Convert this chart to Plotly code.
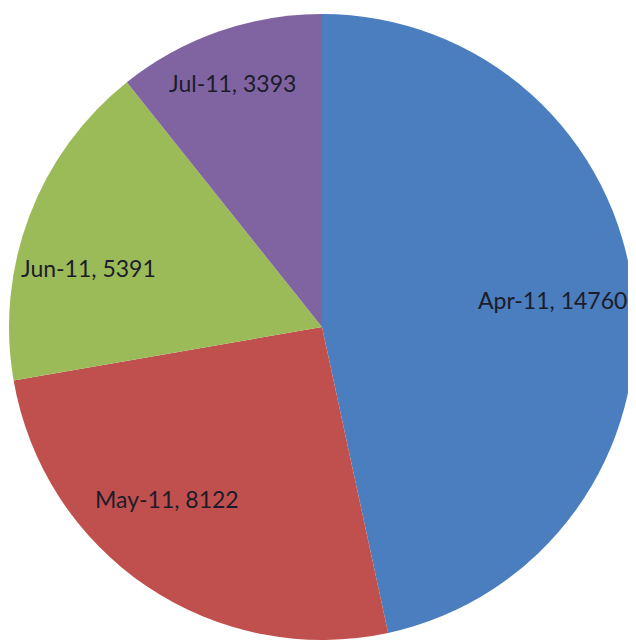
import math

import plotly.graph_objects as go

# Monthly totals
MONTHS = ["Apr-11", "May-11", "Jun-11", "Jul-11"]
VALUES = [14760, 8122, 5391, 3393]
COLORS = ["#4A7EBF", "#C0504D", "#9BBB59", "#8064A2"]

# label placement: distance as a fraction of the radius, and a small
# angular nudge (degrees, clockwise) away from the slice's middle angle
LABEL_R = [0.74, 0.74, 0.77, 0.83]
LABEL_NUDGE = [-0.6, 8.0, -6.6, -0.9]

W, H = 636, 640
# the page body adds 8px around the figure
MARGIN = {"l": 0, "r": 8, "t": 6, "b": 8}

labels_text = [f"{m}, {v}" for m, v in zip(MONTHS, VALUES)]

fig = go.Figure(
    data=[
        go.Pie(
            labels=MONTHS,
            values=VALUES,
            textinfo="none",
            sort=False,
            direction="clockwise",
            rotation=0,
            marker=dict(colors=COLORS, line=dict(width=0)),
            hovertemplate="%{label}: %{value}<extra></extra>",
        )
    ]
)

# data labels placed around the middle angle of each slice
pw = W - MARGIN["l"] - MARGIN["r"]
ph = H - MARGIN["t"] - MARGIN["b"]
radius = min(pw, ph) / 2
total = sum(VALUES)
cum = 0
for txt, v, fr, nudge in zip(labels_text, VALUES, LABEL_R, LABEL_NUDGE):
    mid = (cum + v / 2) / total * 2 * math.pi + math.radians(nudge)
    cum += v
    fig.add_annotation(
        x=0.5 + fr * radius * math.sin(mid) / pw,
        y=0.5 + fr * radius * math.cos(mid) / ph,
        xref="paper",
        yref="paper",
        text=txt,
        showarrow=False,
        xanchor="center",
        yanchor="middle",
        font=dict(family="Lato, Liberation Sans, sans-serif", size=23, color="#1c1c2a"),
    )

fig.update_layout(
    width=W,
    height=H,
    showlegend=False,
    margin=MARGIN,
    paper_bgcolor="white",
)
fig.write_html("out.html")
